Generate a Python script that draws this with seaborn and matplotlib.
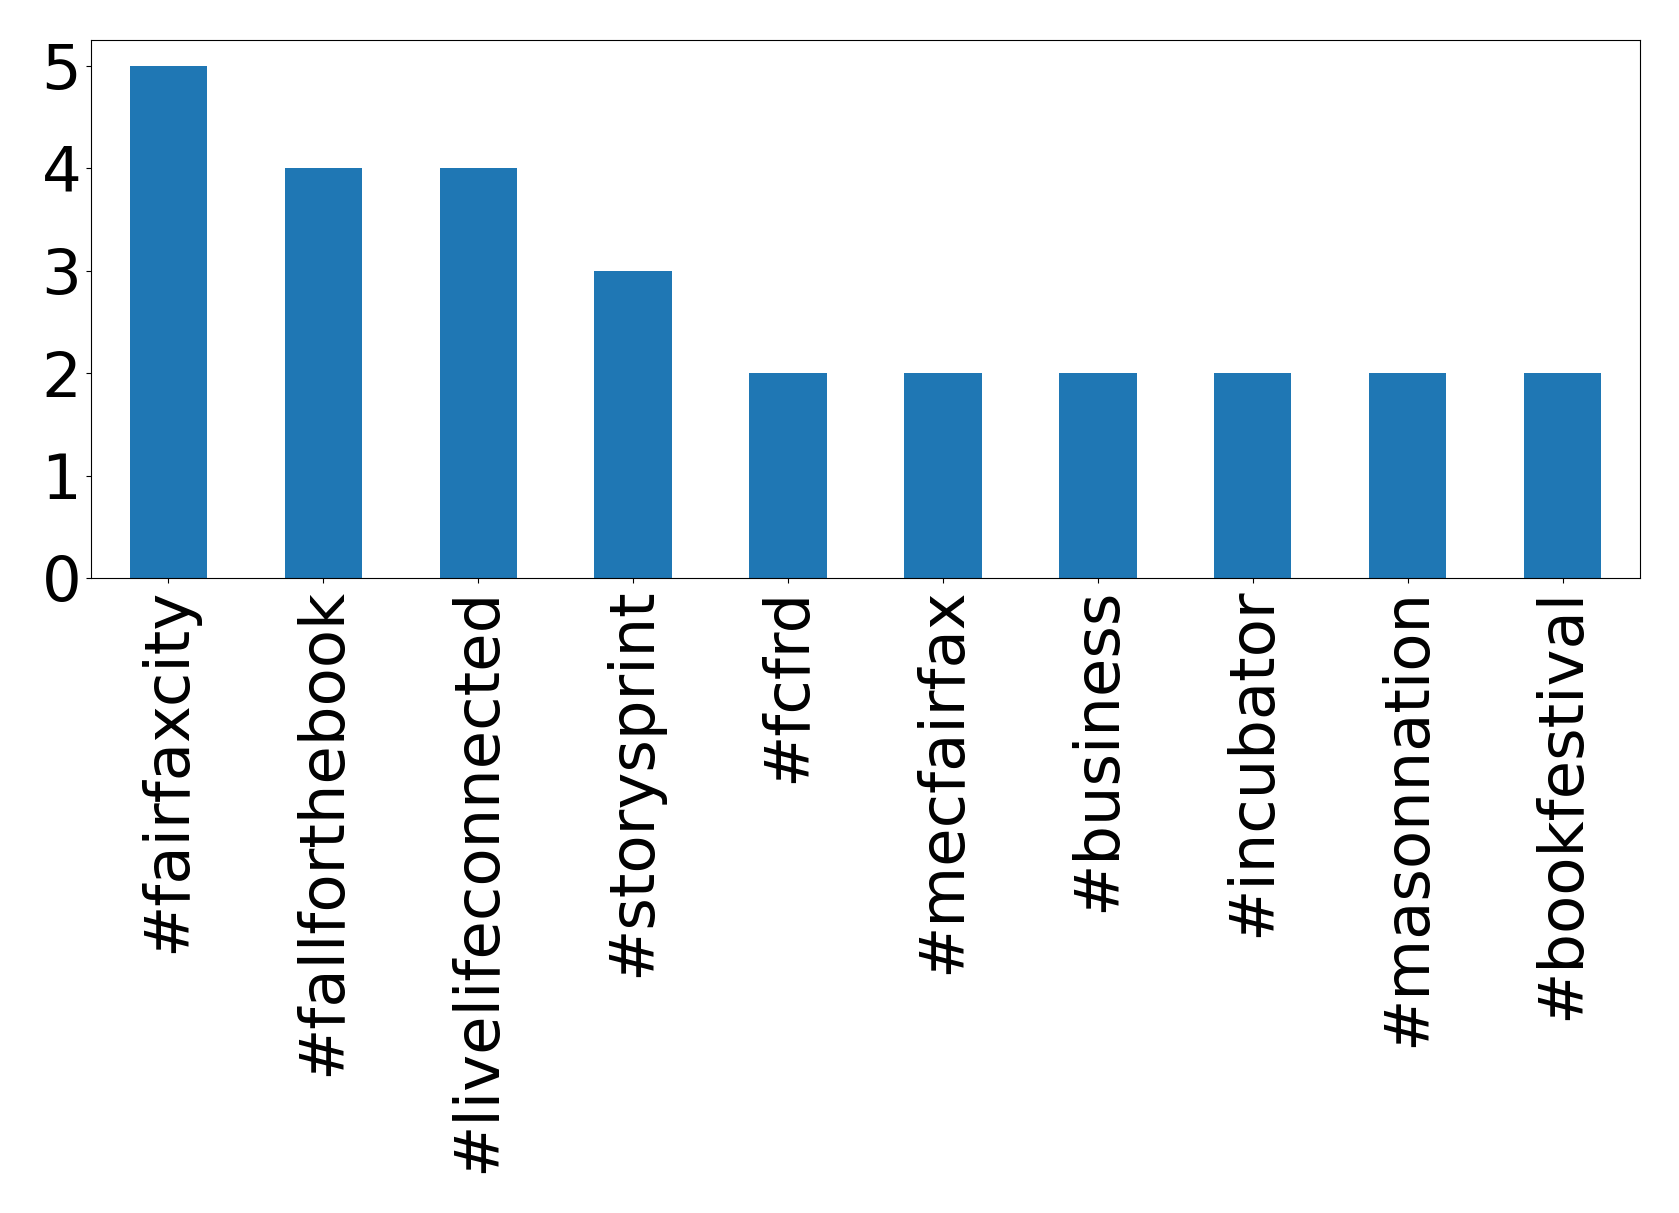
import matplotlib
matplotlib.use("Agg")
import matplotlib.pyplot as plt
import seaborn as sns
import pandas as pd

hashtags = ['#fairfaxcity', '#fallforthebook', '#livelifeconnected', '#storysprint',
            '#fcfrd', '#mecfairfax', '#business', '#incubator', '#masonnation', '#bookfestival']
counts = [5, 4, 4, 3, 2, 2, 2, 2, 2, 2]

df = pd.DataFrame({'hashtag': hashtags, 'count': counts})

fig = plt.figure(figsize=(16.79, 12.13), dpi=100)
ax = fig.add_axes([91/1679, 1 - 578/1213, (1640-91)/1679, (578-40)/1213])
sns.barplot(data=df, x='hashtag', y='count', color='#1f77b4', saturation=1,
            width=0.5, ax=ax)
ax.set(xlabel='', ylabel='')
ax.set_xlim(-0.5, len(hashtags) - 0.5)
ax.set_ylim(0, 5.25)
ax.set_yticks(range(0, 6))
ax.tick_params(axis='x', labelsize=45, labelrotation=90)
ax.tick_params(axis='y', labelsize=45)
fig.savefig('out.png', dpi=100)
